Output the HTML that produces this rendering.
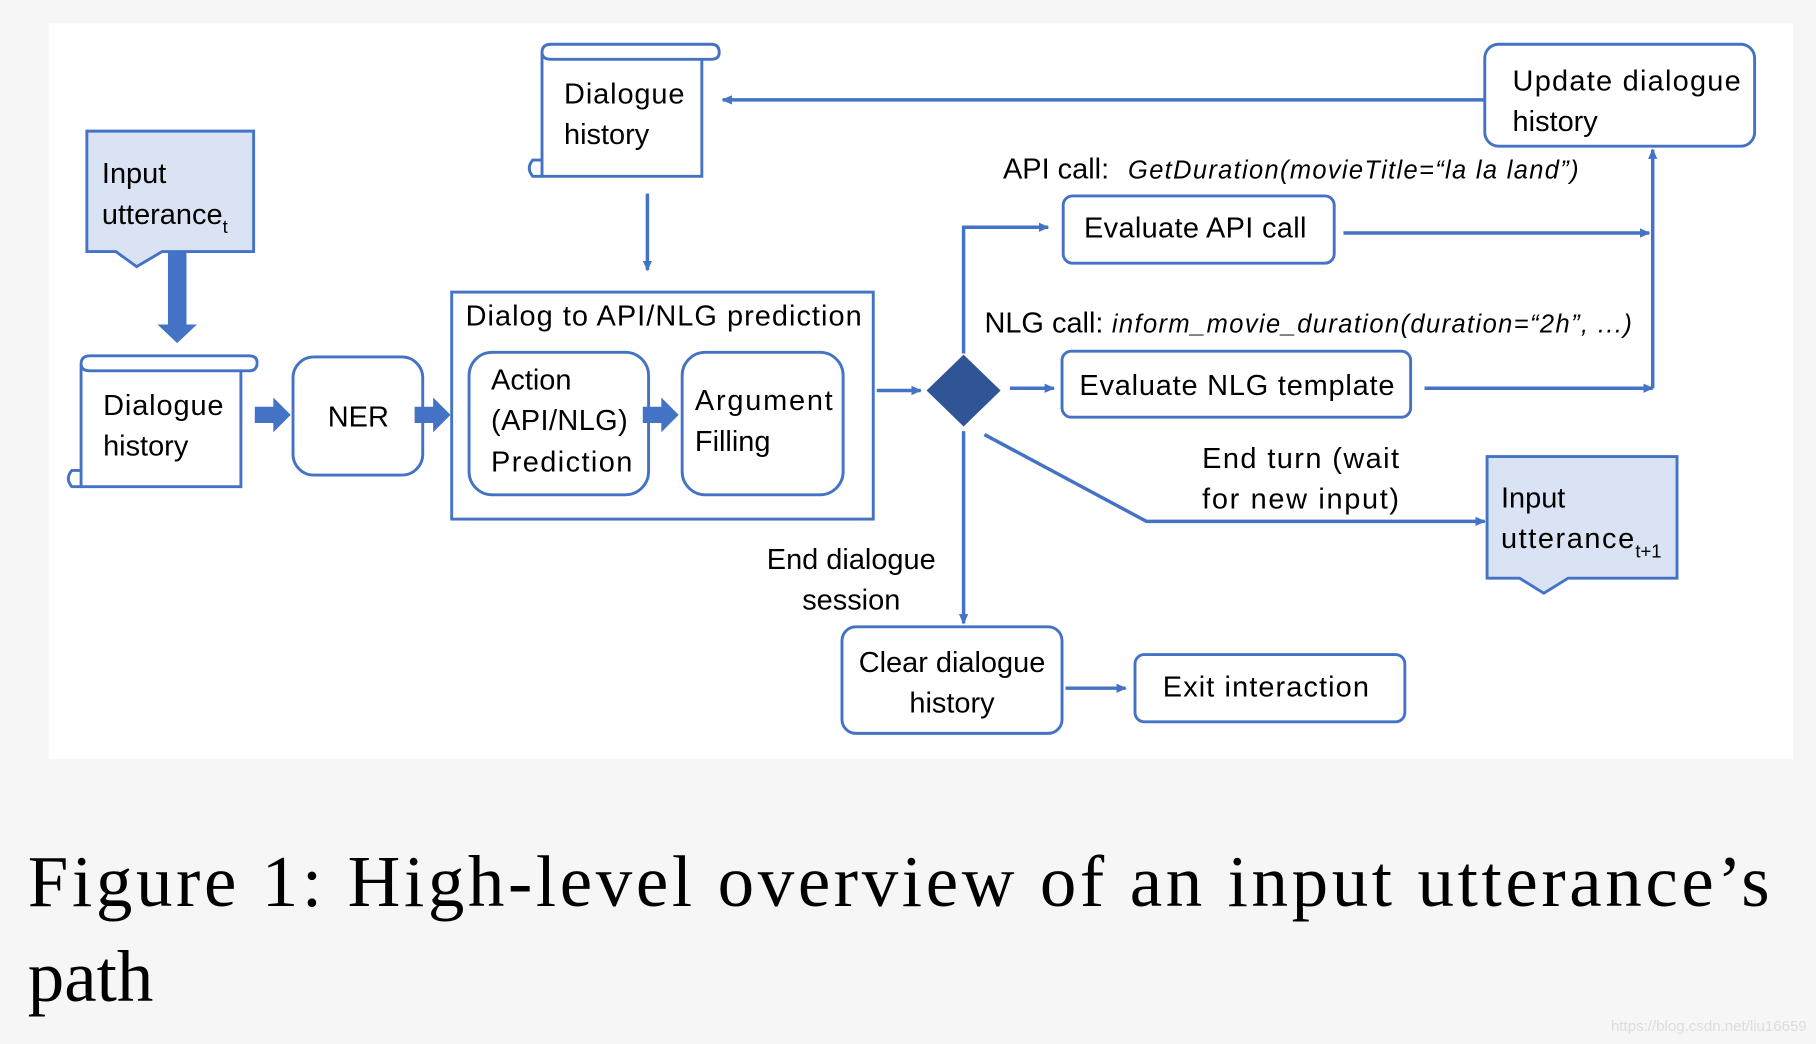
<!DOCTYPE html>
<html><head><meta charset="utf-8"><style>
html,body{margin:0;padding:0;background:#f6f6f6;}
svg{display:block}
text{font-family:"Liberation Sans",sans-serif;fill:#000}
</style></head><body>
<svg width="1816" height="1044" viewBox="0 0 1568 901" xmlns="http://www.w3.org/2000/svg">
<defs>
<marker id="a" markerWidth="10" markerHeight="10" refX="8" refY="5" orient="auto" markerUnits="userSpaceOnUse"><path d="M0,1 L9,5 L0,9 Z" fill="#4472c4"/></marker>
</defs>
<rect x="42" y="20" width="1506" height="635" fill="#fff"/>
<g stroke="#4472c4" stroke-width="2.5" fill="none">
<path d="M75,113 H219 V217 H140 L118,230 L100,217 H75 Z" fill="#dae3f3"/>
<path d="M468,152 V45 Q468,38 476,38 H614 Q621,38 621,45 Q621,51 614,51 H606 V152 Z M468,45 Q468,51 476,51 H606" />
<path d="M468,138 H460 Q454,145 460,152 H468"/>
<path d="M70,420 V314 Q70,307 78,307 H215 Q222,307 222,313 Q222,320 215,320 H208 V420 Z M70,314 Q70,320 78,320 H208"/>
<path d="M70,406 H62 Q56,413 62,420 H70"/>
<rect x="253" y="308" width="112" height="102" rx="18"/>
<rect x="390" y="252" width="364" height="196"/>
<rect x="405" y="304" width="155" height="123" rx="20"/>
<rect x="589" y="304" width="139" height="123" rx="20"/>
<rect x="1282" y="38" width="233" height="88" rx="12"/>
<rect x="918" y="169" width="234" height="58" rx="8"/>
<rect x="917" y="303" width="301" height="57" rx="8"/>
<path d="M1284,394 H1448 V499 H1354 L1333,512 L1312,499 H1284 Z" fill="#dae3f3"/>
<rect x="727" y="541" width="190" height="92" rx="12"/>
<rect x="980" y="565" width="233" height="58" rx="8"/>
<g marker-end="url(#a)" stroke-width="3">
<path d="M1282,86 H624"/>
<path d="M559,167 V233"/>
<path d="M757,337 H795"/>
<path d="M832,305 V196 H905"/>
<path d="M1160,201 H1424"/>
<path d="M1427,335 V129"/>
<path d="M872,335 H910"/>
<path d="M1230,335 H1427"/>
<path d="M850,375 L990,450 H1282"/>
<path d="M832,372 V538"/>
<path d="M920,594 H972"/>
</g>
</g>
<g fill="#4472c4">
<path d="M145,218 H161 V280 H170 L153,296 L136,280 H145 Z"/>
<path d="M220,351 H236 V343 L251,358 L236,373 V365 H220 Z"/>
<path d="M358,351 H374 V343 L389,358 L374,373 V365 H358 Z"/>
<path d="M555,351 H571 V343 L586,358 L571,373 V365 H555 Z"/>
<path d="M832,306 L864,337 L832,368 L800,337 Z" fill="#2f5597"/>
</g>
<g font-size="25">
<text x="88" y="158">Input</text>
<text x="88" y="193">utterance<tspan font-size="16" dy="8">t</tspan></text>
<text x="487" y="89" textLength="104">Dialogue</text>
<text x="487" y="124">history</text>
<text x="89" y="358" textLength="104">Dialogue</text>
<text x="89" y="393">history</text>
<text x="283" y="368">NER</text>
<text x="402" y="281" textLength="342">Dialog to API/NLG prediction</text>
<text x="424" y="336">Action</text>
<text x="424" y="371" textLength="118">(API/NLG)</text>
<text x="424" y="407" textLength="122">Prediction</text>
<text x="600" y="354" textLength="119">Argument</text>
<text x="600" y="389">Filling</text>
<text x="1306" y="78" textLength="197">Update dialogue</text>
<text x="1306" y="113">history</text>
<text x="866" y="154">API call: </text>
<text x="974" y="154" font-style="italic" font-size="22" textLength="389">GetDuration(movieTitle=“la la land”)</text>
<text x="936" y="205" textLength="192">Evaluate API call</text>
<text x="850" y="287">NLG call: </text>
<text x="960" y="287" font-style="italic" font-size="22" textLength="449">inform_movie_duration(duration=“2h”, ...)</text>
<text x="932" y="341" textLength="272">Evaluate NLG template</text>
<text x="1038" y="404" textLength="170">End turn (wait</text>
<text x="1038" y="439" textLength="170">for new input)</text>
<text x="1296" y="438">Input</text>
<text x="1296" y="473" textLength="115">utterance</text><text x="1412" y="481" font-size="16">t+1</text>
<text x="735" y="491" text-anchor="middle">End dialogue</text>
<text x="735" y="526" text-anchor="middle">session</text>
<text x="822" y="580" text-anchor="middle">Clear dialogue</text>
<text x="822" y="615" text-anchor="middle">history</text>
<text x="1004" y="601" textLength="178">Exit interaction</text>
</g>
<text x="24" y="782" font-size="63" textLength="1504" style="font-family:'Liberation Serif',serif">Figure 1: High-level overview of an input utterance’s</text>
<text x="24" y="864" font-size="63" style="font-family:'Liberation Serif',serif">path</text>
<text x="1560" y="890" font-size="13" text-anchor="end" style="fill:#ddd">https://blog.csdn.net/liu16659</text>
</svg>
</body></html>
